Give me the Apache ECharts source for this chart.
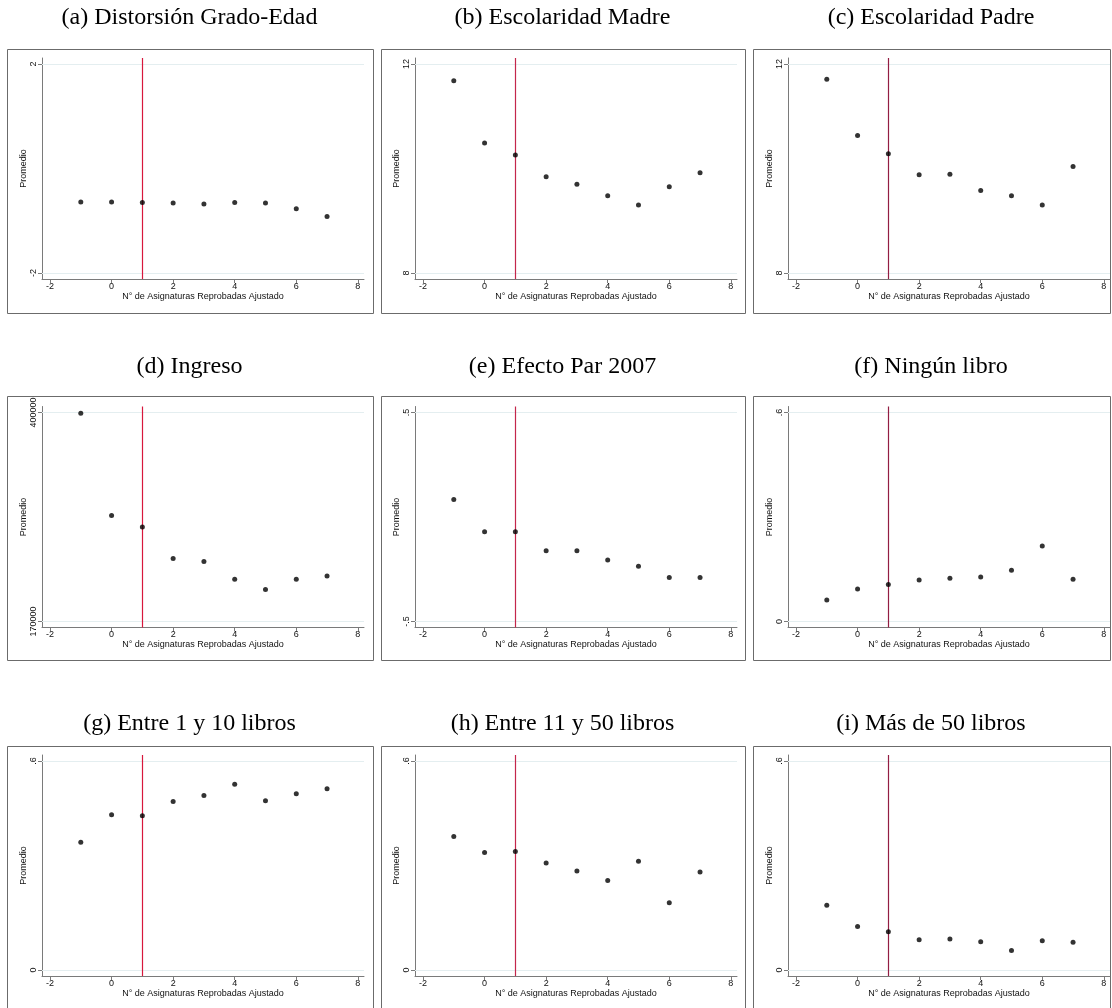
<!DOCTYPE html>
<html>
<head>
<meta charset="utf-8">
<script src="https://cdn.jsdelivr.net/npm/echarts@6/dist/echarts.min.js"></script>
<style>
html,body{margin:0;padding:0;background:#fff;}
#chart{width:1112px;height:1008px;}
</style>
</head>
<body>
<div id="chart"></div>
<script>
// ---- Data ----
const xValues = [-1, 0, 1, 2, 3, 4, 5, 6, 7];
const cutoff = 1;
const titles = [
  '(a) Distorsión Grado-Edad', '(b) Escolaridad Madre', '(c) Escolaridad Padre',
  '(d) Ingreso', '(e) Efecto Par 2007', '(f) Ningún libro',
  '(g) Entre 1 y 10 libros', '(h) Entre 11 y 50 libros', '(i) Más de 50 libros'
];
const xTicks = [-2, 0, 2, 4, 6, 8];
const xAxisName = 'N° de Asignaturas Reprobadas Ajustado';
const yAxisName = 'Promedio';

const distorsionGradoEdad = [-0.64, -0.64, -0.65, -0.66, -0.68, -0.65, -0.66, -0.77, -0.92];
const escolaridadMadre    = [11.68, 10.49, 10.26, 9.84, 9.70, 9.48, 9.30, 9.65, 9.92];
const escolaridadPadre    = [11.71, 10.63, 10.28, 9.88, 9.89, 9.58, 9.48, 9.30, 10.04];
const ingreso             = [399300, 286700, 274100, 239200, 235900, 216400, 205300, 216400, 220000];
const efectoPar2007       = [0.084, -0.070, -0.071, -0.162, -0.162, -0.206, -0.236, -0.289, -0.289];
const ningunLibro         = [0.062, 0.093, 0.106, 0.119, 0.124, 0.128, 0.147, 0.217, 0.121];
const entre1y10           = [0.367, 0.446, 0.443, 0.484, 0.501, 0.533, 0.486, 0.506, 0.520];
const entre11y50          = [0.383, 0.337, 0.340, 0.307, 0.284, 0.257, 0.312, 0.193, 0.281];
const masDe50             = [0.186, 0.125, 0.110, 0.087, 0.089, 0.081, 0.056, 0.084, 0.080];

const yTicksA = [-2, 2],          yLabelsA = ['-2', '2'];
const yTicksB = [8, 12],          yLabelsB = ['8', '12'];
const yTicksC = [8, 12],          yLabelsC = ['8', '12'];
const yTicksD = [170000, 400000], yLabelsD = ['170000', '400000'];
const yTicksE = [-0.5, 0.5],      yLabelsE = ['-.5', '.5'];
const yTicksF = [0, 0.6],         yLabelsF = ['0', '.6'];
const yTicksG = [0, 0.6],         yLabelsG = ['0', '.6'];
const yTicksH = [0, 0.6],         yLabelsH = ['0', '.6'];
const yTicksI = [0, 0.6],         yLabelsI = ['0', '.6'];

const seriesValues = [distorsionGradoEdad, escolaridadMadre, escolaridadPadre, ingreso, efectoPar2007, ningunLibro, entre1y10, entre11y50, masDe50];
const yTickSets = [yTicksA, yTicksB, yTicksC, yTicksD, yTicksE, yTicksF, yTicksG, yTicksH, yTicksI];
const yLabelSets = [yLabelsA, yLabelsB, yLabelsC, yLabelsD, yLabelsE, yLabelsF, yLabelsG, yLabelsH, yLabelsI];

// ---- Layout ----
const colAxisX = [42, 415, 788];
const gridW = 322;
const rowTop = [58, 406.5, 755];
const gridH = 221;
const boxX = [7.5, 381.5, 753.5];
const boxW = [366, 364, 357];
const boxY = [49.5, 396.5, 746.5];
const boxH = 264;
const titleY = [18, 367, 724];
const redColors = ['#d8173c', '#c4264b', '#931d42'];

const grids = [], xAxes = [], yAxes = [], series = [], graphics = [];
const sans = 'Liberation Sans, Arial, sans-serif';

for (let i = 0; i < 9; i++) {
  const r = Math.floor(i / 3), c = i % 3;
  const ticks = yTickSets[i], labels = yLabelSets[i];
  const pad = (ticks[1] - ticks[0]) * 6 / 209;
  grids.push({left: colAxisX[c], top: rowTop[r], width: gridW, height: gridH, containLabel: false});
  xAxes.push({
    type: 'value', gridIndex: i, min: -2.26, max: 8.2,
    name: xAxisName, nameLocation: 'middle', nameGap: 13,
    nameTextStyle: {fontFamily: sans, fontSize: 9, color: '#111'},
    axisLine: {show: true, onZero: false, lineStyle: {color: '#7a7a7a', width: 1}},
    axisTick: {show: true, length: 4, customValues: xTicks, lineStyle: {color: '#7a7a7a'}},
    axisLabel: {customValues: xTicks, margin: 3, fontFamily: sans, fontSize: 9, color: '#111',
      formatter: v => String(v)},
    splitLine: {show: false}
  });
  yAxes.push({
    type: 'value', gridIndex: i, min: ticks[0] - pad, max: ticks[1] + pad,
    name: yAxisName, nameLocation: 'middle', nameGap: 14,
    nameTextStyle: {fontFamily: sans, fontSize: 9, color: '#111'},
    axisLine: {show: true, onZero: false, lineStyle: {color: '#7a7a7a', width: 1}},
    axisTick: {show: true, length: 4, customValues: ticks, lineStyle: {color: '#7a7a7a'}},
    axisLabel: {customValues: ticks, rotate: 90, margin: 4, fontFamily: sans, fontSize: 9, color: '#111',
      formatter: v => { const k = ticks.findIndex(t => Math.abs(t - v) < 1e-9); return k >= 0 ? labels[k] : ''; }},
    splitLine: {show: false}
  });
  series.push({
    type: 'scatter', xAxisIndex: i, yAxisIndex: i,
    data: xValues.map((x, k) => [x, seriesValues[i][k]]),
    symbol: 'circle', symbolSize: 5, z: 5,
    itemStyle: {color: '#000'},
    animation: false,
    markLine: {
      silent: true, symbol: 'none', animation: false, z: 1,
      label: {show: false},
      data: [
        {yAxis: ticks[0], lineStyle: {color: '#e4eef0', width: 1, type: 'solid'}},
        {yAxis: ticks[1], lineStyle: {color: '#e4eef0', width: 1, type: 'solid'}},
        {xAxis: cutoff, lineStyle: {color: redColors[c], width: 1.2, type: 'solid'}}
      ]
    }
  });
  graphics.push({
    type: 'rect', silent: true,
    shape: {x: boxX[c], y: boxY[r], width: boxW[c], height: boxH},
    style: {fill: 'none', stroke: '#6b6b6b', lineWidth: 1}
  });
  graphics.push({
    type: 'text', silent: true,
    x: boxX[c] + boxW[c] / 2 - 1, y: titleY[r],
    style: {text: titles[i], fontFamily: 'Liberation Serif, Times New Roman, serif', fontSize: 24,
      fill: '#000', align: 'center', verticalAlign: 'middle'}
  });
}

const chart = echarts.init(document.getElementById('chart'), null, {renderer: 'canvas'});
chart.setOption({
  animation: false,
  backgroundColor: '#fff',
  grid: grids, xAxis: xAxes, yAxis: yAxes, series: series,
  graphic: graphics
});
</script>
</body>
</html>
